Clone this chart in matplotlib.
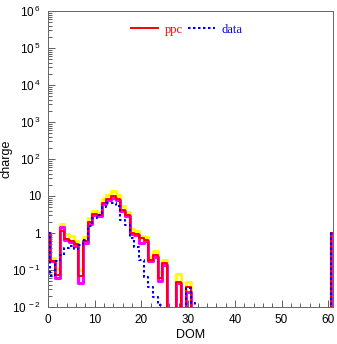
import numpy as np
import matplotlib
matplotlib.use("Agg")
import matplotlib.pyplot as plt
from matplotlib.ticker import FixedLocator, MultipleLocator, LogLocator, NullFormatter

plt.rcParams['font.family'] = ['Liberation Sans', 'DejaVu Sans']
plt.rcParams['mathtext.fontset'] = 'custom'
plt.rcParams['mathtext.rm'] = 'Liberation Sans'

# DOM 0..61 (bins centred on integers); empty bins are 0
dom = list(range(0, 62))

ppc = [1.0, 0.18, 0.073, 1.1, 0.68, 0.6, 0.49, 0.07, 0.6, 2.0,
       3.2, 3.1, 6.6, 8.2, 10.0, 8.2, 4.3, 3.1, 1.02, 0.94,
       0.72, 0.65, 0.19, 0.25, 0.06, 0.15, 0, 0, 0.048, 0,
       0.035, 0, 0] + [0.0] * 28 + [1.0]
ppc_hi = [1.0, 0.21, 0.105, 1.7, 0.92, 0.85, 0.6, 0.1, 0.8, 2.5,
          4.0, 3.8, 8.2, 10.7, 13.6, 10.7, 5.3, 3.8, 1.26, 1.15,
          0.83, 0.77, 0.22, 0.33, 0.09, 0.19, 0, 0, 0.077, 0,
          0.048, 0, 0] + [0.0] * 28 + [1.0]
ppc_lo = [1.0, 0.17, 0.06, 1.45, 0.66, 0.57, 0.45, 0.045, 0.55, 1.8,
          3.0, 2.9, 6.0, 7.6, 9.0, 7.6, 3.9, 2.9, 0.95, 0.88,
          0.55, 0.6, 0.17, 0.23, 0.052, 0.14, 0, 0, 0.045, 0,
          0.025, 0, 0] + [0.0] * 28 + [1.0]
data = [1.0, 0.07, 0.17, 0.25, 0.39, 0.45, 0.37, 0.48, 0.66, 1.5,
        2.6, 3.1, 5.1, 6.6, 6.6, 5.3, 2.3, 1.64, 0.72, 0.43,
        0.19, 0.066, 0.035, 0.019, 0.011, 0, 0, 0, 0, 0,
        0.032, 0.013, 0] + [0.0] * 28 + [1.0]

ytick_vals = [1e-2, 1e-1, 1, 10, 1e2, 1e3, 1e4, 1e5, 1e6]
ytick_labels = [r'$\mathregular{10^{\,-2}}$', r'$\mathregular{10^{\,-1}}$', '1', '10',
                r'$\mathregular{10^{\,2}}$', r'$\mathregular{10^{\,3}}$', r'$\mathregular{10^{\,4}}$',
                r'$\mathregular{10^{\,5}}$', r'$\mathregular{10^{\,6}}$']

fig = plt.figure(figsize=(3.37, 3.44), dpi=100)
ax = fig.add_axes([48 / 337, 1 - 307 / 344, 285 / 337, 296 / 344])
ax.set_yscale('log')

ax.step(dom, ppc_hi, where='mid', color='#ffff00', lw=2.2)
ax.step(dom, ppc_lo, where='mid', color='#ff00ff', lw=2.2)
ax.step(dom, ppc, where='mid', color='#ff0000', lw=1.4, label='ppc')
ax.step(dom, data, where='mid', color='#0000ff', lw=1.5,
        linestyle=(0, (1.2, 1.2)), label='data')

ax.set_xlim(0, 61)
ax.set_ylim(1e-2, 1e6)

ax.xaxis.set_major_locator(MultipleLocator(10))
ax.xaxis.set_minor_locator(MultipleLocator(2))
ax.yaxis.set_major_locator(FixedLocator(ytick_vals))
ax.set_yticklabels(ytick_labels)
ax.yaxis.set_minor_locator(LogLocator(base=10, subs=np.arange(2, 10)))
ax.yaxis.set_minor_formatter(NullFormatter())

ax.tick_params(which='both', direction='in', top=False, right=False,
               labelsize=8.5, color='#444444', width=0.6)
ax.tick_params(which='major', length=5)
ax.tick_params(which='minor', length=3)
ax.tick_params(axis='y', which='major', pad=5)
ax.tick_params(axis='x', which='major', pad=5)
for sp in ax.spines.values():
    sp.set_color('#666666')
    sp.set_linewidth(0.7)

ax.set_xlabel('DOM', fontsize=9, labelpad=2)
ax.set_ylabel('charge', fontsize=9)
ax.yaxis.set_label_coords(-0.125, 0.5)

ax.legend(loc='upper center', bbox_to_anchor=(0.486, 0.995), ncol=2,
          frameon=False, handlelength=2.2, columnspacing=0.4, handletextpad=0.5,
          labelcolor='linecolor', prop={'family': 'Liberation Serif', 'size': 9})

fig.savefig('out.png', dpi=100)
